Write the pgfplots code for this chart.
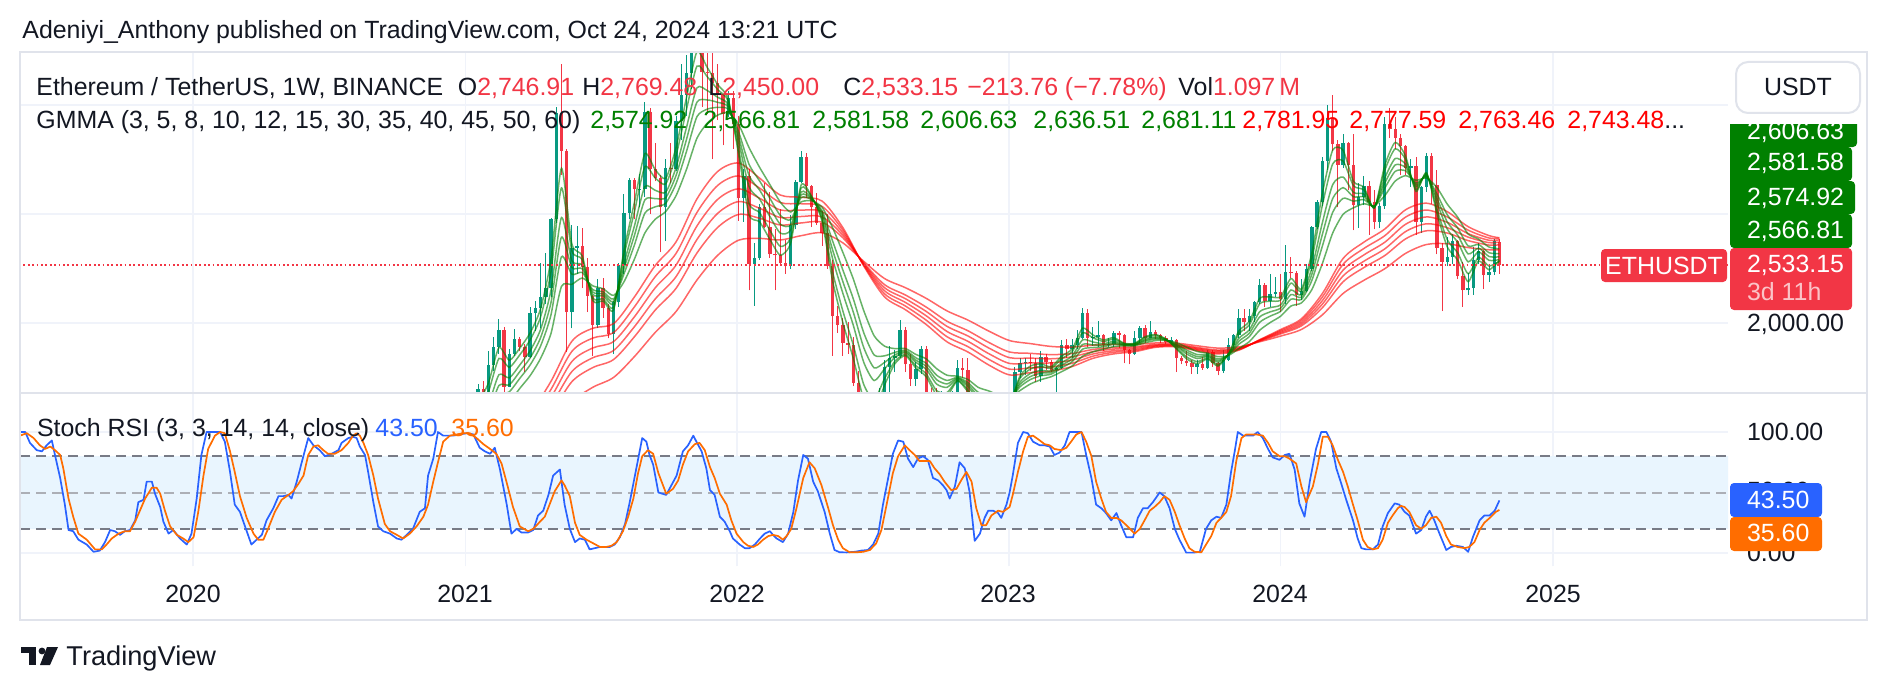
\documentclass[border=0pt]{standalone}
\usepackage{fontspec}
\setmainfont{Liberation Sans}
\usepackage{pgfplots}
\pgfplotsset{compat=1.18}
\usepackage{pgfplotstable}

\definecolor{txt}{HTML}{131722}
\definecolor{upcol}{HTML}{089981}
\definecolor{dncol}{HTML}{F23645}
\definecolor{fastcol}{RGB}{0,128,0}
\definecolor{slowcol}{RGB}{255,0,0}
\definecolor{legG}{RGB}{0,128,0}
\definecolor{legR}{RGB}{255,0,0}
\definecolor{kcol}{HTML}{2962FF}
\definecolor{dcol}{HTML}{FF6D00}
\definecolor{gridc}{HTML}{F0F3FA}
\definecolor{bordc}{HTML}{E0E3EB}
\definecolor{dashc}{HTML}{787B86}
\definecolor{midc}{RGB}{172,175,182}
\definecolor{bandc}{RGB}{233,245,254}

% weekly candles: week index (0 = 6 Jan 2020), open, high, low, close
\pgfplotstableread{
w o h l c
54 1230 1440 1040 1392
55 1392 1470 1270 1314
56 1314 1740 1290 1614
57 1614 1870 1560 1780
58 1780 2040 1720 1935
59 1935 1960 1360 1416
60 1416 1760 1410 1720
61 1720 1945 1700 1855
62 1855 1870 1740 1782
63 1782 1810 1550 1690
64 1690 2145 1680 2090
65 2090 2200 1930 2140
66 2140 2550 1950 2240
67 2240 2645 2170 2320
68 2320 2960 2240 2950
69 2950 3980 2920 3930
70 3930 4372 3360 3580
71 3580 3600 1730 2100
72 2100 2900 1950 2690
73 2690 2890 2450 2710
74 2710 2870 2320 2510
75 2510 2600 2100 2250
76 2250 2260 1700 1980
77 1980 2400 1950 2320
78 2320 2410 2050 2140
79 2140 2170 1860 1900
80 1900 2200 1720 2190
81 2190 2550 2150 2530
82 2530 3180 2450 3010
83 3010 3330 2950 3310
84 3310 3330 2950 3225
85 3225 3370 3060 3230
86 3230 4030 3160 3940
87 3940 3970 3000 3410
88 3410 3650 3300 3330
89 3330 3360 2650 3060
90 3060 3500 2750 3420
91 3420 3650 3280 3415
92 3415 3900 3390 3850
93 3850 4380 3680 4090
94 4090 4460 3900 4290
95 4290 4670 4150 4620
96 4620 4870 4500 4630
97 4630 4770 3980 4300
98 4300 4550 3920 4290
99 4290 4780 3500 4200
100 4200 4380 3860 4100
101 4100 4100 3630 3920
102 3920 4130 3890 4060
103 4060 4130 3600 3830
104 3830 3900 2940 3150
105 3150 3410 2930 3350
106 3350 3410 2300 2540
107 2540 2730 2160 2600
108 2600 3090 2580 3060
109 3060 3280 2870 2880
110 2880 3200 2600 2630
111 2630 2860 2300 2620
112 2620 3050 2540 2550
113 2550 2760 2450 2520
114 2520 2990 2500 2900
115 2900 3310 2860 3290
116 3290 3580 3280 3520
117 3520 3560 3150 3260
118 3260 3270 2880 3060
119 3060 3190 2900 2920
120 2920 3030 2710 2830
121 2830 3000 2500 2520
122 2520 2580 1700 2060
123 2060 2160 1910 1980
124 1980 2050 1700 1820
125 1820 2010 1720 1800
126 1800 1870 1420 1450
127 1450 1560 880 1130
128 1130 1260 1040 1200
129 1200 1250 1000 1070
130 1070 1250 1040 1170
131 1170 1400 1000 1340
132 1340 1660 1320 1600
133 1600 1790 1360 1680
134 1680 1750 1550 1700
135 1700 2030 1680 1935
136 1935 1960 1550 1620
137 1620 1720 1420 1490
138 1490 1640 1420 1580
139 1580 1790 1530 1760
140 1760 1790 1280 1340
141 1340 1400 1220 1290
142 1290 1400 1260 1280
143 1280 1380 1270 1320
144 1320 1340 1190 1330
145 1330 1380 1270 1360
146 1360 1660 1340 1590
147 1590 1680 1500 1570
148 1570 1680 1070 1220
149 1220 1290 1110 1140
150 1140 1230 1080 1200
151 1200 1300 1150 1280
152 1280 1310 1230 1265
153 1265 1350 1150 1185
154 1185 1230 1160 1220
155 1220 1230 1190 1200
156 1200 1330 1190 1290
157 1290 1600 1280 1550
158 1550 1680 1500 1630
159 1630 1680 1520 1645
160 1645 1720 1560 1630
161 1630 1680 1460 1515
162 1515 1740 1460 1690
163 1690 1720 1570 1640
164 1640 1660 1550 1565
165 1565 1600 1370 1590
166 1590 1840 1580 1800
167 1800 1850 1680 1760
168 1760 1850 1680 1795
169 1795 1940 1760 1860
170 1860 2140 1850 2095
171 2095 2130 1780 1865
172 1865 1960 1790 1870
173 1870 2020 1780 1890
174 1890 1900 1740 1800
175 1800 1860 1780 1805
176 1805 1930 1780 1910
177 1910 1930 1770 1890
178 1890 1900 1630 1750
179 1750 1760 1620 1720
180 1720 1930 1710 1860
181 1860 1970 1820 1955
182 1955 1980 1820 1865
183 1865 2020 1860 1920
184 1920 1940 1850 1890
185 1890 1900 1820 1860
186 1860 1880 1810 1830
187 1830 1870 1800 1840
188 1840 1850 1550 1680
189 1680 1700 1620 1655
190 1655 1740 1610 1630
191 1630 1660 1530 1600
192 1600 1660 1530 1620
193 1620 1690 1570 1590
194 1590 1750 1580 1730
195 1730 1750 1600 1630
196 1630 1640 1520 1560
197 1560 1750 1540 1660
198 1660 1860 1650 1800
199 1800 1900 1760 1890
200 1890 2130 1860 2050
201 2050 2130 1930 2010
202 2010 2130 1930 2060
203 2060 2200 2010 2190
204 2190 2400 2170 2350
205 2350 2370 2150 2200
206 2200 2450 2150 2265
207 2265 2420 2240 2280
208 2280 2450 2100 2220
209 2220 2720 2170 2470
210 2470 2610 2410 2460
211 2460 2480 2160 2260
212 2260 2400 2210 2290
213 2290 2540 2280 2500
214 2500 2890 2480 2880
215 2880 3130 2860 3110
216 3110 3520 3070 3490
217 3490 4000 3400 3880
218 3880 4090 3580 3640
219 3640 3680 3060 3450
220 3450 3730 3420 3650
221 3650 3660 3220 3450
222 3450 3730 2850 3080
223 3080 3280 2870 3160
224 3160 3350 3080 3260
225 3260 3300 2810 3110
226 3110 3220 2860 2930
227 2930 3100 2870 3070
228 3070 3890 3050 3830
229 3830 3975 3700 3780
230 3780 3890 3600 3700
231 3700 3730 3360 3620
232 3620 3630 3360 3420
233 3420 3500 3250 3440
234 3440 3520 2810 2930
235 2930 3260 2830 3250
236 3250 3560 3200 3530
237 3530 3560 3090 3270
238 3270 3400 2630 2690
239 2690 2730 2110 2560
240 2560 2790 2520 2610
241 2610 2820 2540 2750
242 2750 2760 2400 2430
243 2430 2560 2150 2300
244 2300 2460 2260 2320
245 2320 2700 2260 2580
246 2580 2730 2540 2660
247 2660 2670 2310 2440
248 2440 2520 2380 2470
249 2470 2770 2440 2750
250 2746.91 2769.48 2450 2533.15
}\candles

% GMMA fast group (3,5,8,10,12,15)
\pgfplotstableread{
w e3 e5 e8 e10 e12 e15
52 1036 973 879 817 754 660
54 1263 1188 1076 1001 926 814
56 1451 1371 1250 1170 1090 969
58 1775 1675 1526 1427 1327 1178
60 1658 1594 1497 1433 1369 1272
62 1769 1708 1615 1554 1492 1400
64 1910 1845 1747 1681 1616 1518
66 2133 2057 1942 1866 1790 1676
68 2588 2474 2304 2190 2077 1906
70 3420 3239 2968 2788 2607 2336
72 2725 2663 2571 2509 2447 2355
74 2614 2580 2530 2497 2463 2413
76 2206 2229 2262 2285 2307 2341
78 2202 2221 2249 2267 2286 2314
80 2120 2142 2175 2198 2220 2253
82 2668 2620 2547 2499 2451 2378
84 3107 3020 2890 2803 2716 2586
86 3553 3432 3250 3129 3007 2825
88 3406 3330 3217 3141 3066 2952
90 3327 3276 3200 3149 3098 3022
92 3612 3538 3427 3354 3280 3169
94 4070 3960 3795 3685 3575 3410
96 4488 4356 4157 4026 3893 3695
98 4342 4258 4131 4046 3962 3835
100 4186 4140 4070 4024 3978 3908
102 4056 4035 4003 3982 3961 3929
104 3547 3593 3661 3707 3753 3821
106 2994 3097 3250 3353 3455 3609
108 2929 3013 3138 3221 3305 3430
110 2767 2851 2977 3060 3144 3270
112 2622 2703 2825 2906 2987 3109
114 2736 2783 2854 2900 2948 3018
116 3266 3240 3201 3176 3150 3111
118 3162 3155 3145 3138 3131 3121
120 2935 2956 2988 3010 3031 3063
122 2394 2475 2596 2676 2757 2878
124 2004 2111 2273 2380 2487 2648
126 1676 1798 1980 2101 2223 2405
128 1302 1438 1641 1776 1912 2115
130 1178 1296 1472 1589 1707 1883
132 1430 1490 1579 1639 1699 1788
134 1627 1650 1685 1708 1731 1765
136 1701 1712 1728 1739 1750 1766
138 1588 1609 1640 1660 1681 1712
140 1507 1534 1575 1603 1630 1671
142 1339 1379 1440 1480 1521 1581
144 1330 1362 1410 1441 1473 1521
146 1468 1475 1486 1494 1501 1512
148 1369 1388 1416 1435 1454 1482
150 1227 1257 1303 1333 1364 1409
152 1259 1279 1308 1328 1348 1377
154 1221 1240 1269 1288 1307 1336
156 1250 1261 1278 1288 1300 1316
158 1515 1493 1459 1437 1415 1381
160 1605 1578 1537 1509 1482 1441
162 1625 1601 1565 1540 1516 1480
164 1599 1584 1561 1546 1531 1508
166 1697 1673 1637 1614 1590 1554
168 1762 1736 1697 1671 1645 1606
170 1953 1910 1845 1803 1760 1695
172 1890 1864 1826 1800 1775 1736
174 1845 1831 1810 1796 1782 1761
176 1866 1852 1832 1818 1805 1784
178 1814 1810 1804 1801 1797 1791
180 1814 1810 1805 1801 1798 1792
182 1875 1866 1852 1842 1833 1819
184 1894 1885 1871 1862 1853 1839
186 1853 1851 1848 1845 1843 1840
188 1763 1773 1787 1796 1806 1820
190 1670 1688 1715 1733 1751 1778
192 1627 1646 1674 1692 1711 1739
194 1669 1678 1691 1700 1709 1722
196 1605 1619 1641 1655 1670 1691
198 1716 1714 1710 1708 1706 1702
200 1927 1900 1860 1833 1806 1766
202 2014 1983 1937 1906 1875 1829
204 2226 2177 2104 2056 2007 1934
206 2239 2200 2141 2102 2063 2004
208 2240 2210 2166 2136 2107 2062
210 2408 2366 2303 2261 2219 2156
212 2312 2291 2259 2237 2216 2184
214 2643 2587 2502 2446 2390 2306
216 3183 3076 2916 2809 2702 2542
218 3586 3459 3269 3142 3015 2825
220 3584 3486 3339 3242 3144 2997
222 3299 3259 3198 3158 3118 3057
224 3245 3220 3182 3157 3132 3094
226 3054 3058 3063 3066 3070 3075
228 3446 3400 3330 3284 3238 3169
230 3657 3598 3509 3450 3391 3302
232 3529 3500 3455 3426 3396 3352
234 3207 3224 3250 3267 3284 3309
236 3379 3371 3359 3350 3342 3330
238 3007 3046 3105 3145 3184 3243
240 2697 2763 2861 2926 2992 3090
242 2577 2643 2741 2806 2872 2970
244 2379 2452 2561 2634 2707 2816
246 2570 2603 2653 2687 2720 2770
248 2488 2523 2575 2610 2645 2697
250 2574.92 2566.81 2581.58 2606.63 2636.51 2681.11
}\fast

% GMMA slow group (30,35,40,45,50,60)
\pgfplotstableread{
w e30 e35 e40 e45 e50 e60
52 528 507 487 466 445 404
56 731 697 663 629 595 527
60 960 912 865 817 770 675
64 1170 1112 1054 996 938 822
68 1466 1392 1318 1244 1170 1022
72 1833 1740 1647 1555 1462 1276
76 1952 1862 1771 1681 1591 1410
80 1994 1912 1830 1748 1665 1501
84 2239 2148 2057 1966 1874 1692
88 2528 2426 2323 2221 2119 1914
92 2745 2639 2532 2426 2319 2106
96 3138 3014 2890 2766 2642 2394
100 3391 3263 3135 3007 2878 2622
104 3467 3349 3231 3114 2996 2760
108 3330 3238 3145 3053 2961 2776
112 3174 3105 3037 2968 2899 2762
116 3153 3094 3036 2977 2918 2801
120 3119 3070 3022 2973 2924 2827
124 2875 2852 2828 2805 2782 2735
128 2524 2531 2538 2545 2552 2566
132 2240 2268 2296 2324 2352 2408
136 2122 2156 2189 2223 2257 2324
140 1986 2026 2066 2106 2146 2226
144 1827 1874 1922 1969 2016 2111
148 1734 1783 1832 1881 1929 2027
152 1615 1667 1719 1771 1822 1926
156 1524 1577 1629 1682 1734 1839
160 1545 1589 1634 1678 1722 1811
164 1559 1597 1634 1672 1710 1785
168 1601 1631 1660 1690 1720 1779
172 1676 1696 1716 1737 1757 1797
176 1717 1732 1746 1761 1775 1804
180 1737 1748 1759 1771 1782 1804
184 1777 1784 1790 1797 1804 1817
188 1782 1788 1793 1799 1804 1815
192 1745 1753 1760 1768 1776 1791
196 1717 1726 1735 1744 1752 1770
200 1751 1756 1761 1766 1771 1781
204 1847 1844 1841 1838 1834 1828
208 1940 1930 1920 1910 1900 1880
212 2039 2023 2006 1990 1974 1941
216 2269 2237 2204 2172 2139 2074
220 2592 2539 2485 2432 2378 2271
224 2742 2684 2625 2567 2509 2392
228 2862 2801 2741 2680 2619 2498
232 3039 2972 2906 2839 2772 2639
236 3099 3036 2973 2910 2846 2720
240 3021 2972 2923 2874 2825 2727
244 2884 2852 2820 2788 2756 2692
248 2802 2780 2759 2737 2715 2672
250 2781.95 2777.59 2763.46 2743.48 2718 2672
}\slow

% Stoch RSI %K
\pgfplotstableread{
w v
-33.9 100
-32.9 100
-32.0 91
-30.7 85
-29.7 84
-28.8 89
-27.8 93
-27.2 81
-26.2 62
-25.3 40
-24.6 19
-23.7 18
-22.7 11
-21.1 7
-19.8 1
-18.6 2
-17.6 9
-16.6 19
-15.7 18
-14.7 15
-13.8 18
-12.8 19
-11.8 27
-11.2 42
-10.2 44
-9.6 59
-8.6 59
-8.0 49
-7.0 38
-6.4 26
-5.4 16
-4.5 19
-3.2 12
-1.9 7
-1.0 16
0.0 45
0.9 81
1.9 100
3.2 100
4.5 100
5.4 92
6.4 67
7.3 40
8.3 34
9.6 18
10.5 7
11.5 11
12.5 15
13.4 27
14.7 37
15.7 47
16.6 47
17.6 48
18.2 45
19.2 59
20.1 74
21.4 95
22.4 89
23.6 85
24.6 80
25.9 82
27.2 85
27.8 91
29.1 95
30.0 96
30.7 95
31.3 88
32.3 81
32.9 67
33.9 42
34.8 22
35.8 18
37.1 16
38.4 12
39.3 11
40.3 15
41.5 20
42.8 34
43.8 37
44.4 64
45.4 78
46.3 100
47.3 97
48.3 97
49.2 97
50.5 98
51.8 99
53.1 98
54.3 87
55.3 84
56.3 82
57.2 87
58.2 69
59.5 40
60.4 16
61.4 20
62.3 17
63.6 17
64.6 19
65.5 31
66.5 35
67.5 48
68.4 64
69.7 69
70.6 40
71.6 20
72.6 9
73.5 12
74.5 11
75.4 3
76.4 4
77.4 5
79.3 5
80.2 7
81.2 13
82.2 24
83.1 42
84.1 64
85.0 84
85.5 95
86.3 92
86.9 81
87.6 73
88.6 50
90.1 48
91.1 56
92.1 64
93.3 84
94.3 89
95.3 97
95.9 92
96.9 84
97.8 70
98.5 52
99.4 48
100.4 30
101.3 26
102.3 18
102.9 12
104.2 7
105.2 4
106.1 4
107.1 7
108.1 12
109.0 16
110.0 18
110.6 15
111.3 12
112.5 9
113.5 16
114.5 34
115.4 60
116.4 81
117.3 78
118.3 59
119.2 51
120.5 34
121.5 16
122.4 2.5
123.4 0.6
124.7 0.5
126.3 1
127.6 2
128.8 2.5
129.8 7
130.8 16
131.7 40
132.7 62
133.6 82
134.6 93
135.6 92
136.5 78
137.5 71
138.4 78
139.4 80
140.3 77
141.3 62
142.3 60
143.2 56
143.9 52
144.5 45
145.5 55
146.4 75
147.4 70
148.3 51
149.3 10
150.3 16
151.2 29
151.9 35
152.8 35
153.8 33
154.4 29
155.4 40
156.0 50
156.6 64
157.6 91
158.6 100
159.5 99
160.5 92
161.8 89
162.7 89
163.7 88
164.6 81
165.6 83
166.6 89
167.5 100
168.8 100
169.8 100
170.7 81
171.7 62
172.6 40
173.6 37
174.5 33
175.5 27
176.5 33
177.4 23
178.4 13
179.7 13
180.6 29
181.6 37
182.5 37
183.5 42
184.8 50
185.7 47
186.7 37
187.7 20
188.6 11
189.9 0.3
191.2 0.3
192.5 1
193.7 20
194.7 27
195.7 30
196.6 29
197.6 40
198.5 67
199.2 84
199.8 100
200.8 97
201.7 97
202.7 97
203.6 100
204.6 95
205.6 86
206.5 79
207.8 77
208.8 81
209.7 82
210.7 69
211.6 41
212.6 30
213.6 59
214.8 86
215.8 100
216.8 100
217.7 92
218.7 70
219.6 58
220.6 44
221.9 27
222.8 12
223.5 4
224.4 3
225.7 3
226.7 7
227.6 22
228.6 33
229.9 41
230.8 40
231.8 34
232.7 31
234.0 16
235.0 19
235.9 30
236.6 35
237.5 27
238.5 16
239.8 2.5
240.7 5
241.7 6
243.0 5
244.0 1
244.9 13
246.2 27
247.1 31
248.1 31
249.1 35
250 43.5
}\stochK

% Stoch RSI %D
\pgfplotstableread{
w v
-33.9 97
-32.6 99
-31.3 95
-30.1 89
-29.1 86
-28.1 88
-27.2 85
-26.2 81
-25.6 70
-24.6 45
-23.7 30
-22.7 16
-21.1 11
-19.5 3
-18.2 3
-17.3 7
-16.3 12
-15.0 16
-13.8 18
-12.8 18
-11.8 26
-10.9 35
-9.9 45
-8.6 54
-7.7 54
-7.0 49
-6.1 35
-5.1 22
-3.8 15
-2.6 12
-1.6 9
-0.6 13
0.3 34
1.3 64
2.2 86
3.5 97
4.5 100
5.4 99
6.4 84
7.3 67
8.3 47
9.6 29
10.9 16
11.8 11
12.8 11
13.7 20
15.0 34
16.3 44
17.6 48
18.5 51
19.5 57
20.5 64
21.4 81
22.4 88
23.3 89
24.3 85
25.2 82
26.5 82
27.8 85
29.1 91
30.0 97
30.7 99
31.3 97
32.0 91
32.9 81
33.9 64
34.8 45
36.1 24
37.1 18
38.4 15
39.6 12
40.9 16
42.2 22
43.5 30
44.4 40
45.4 59
46.3 75
47.3 92
48.6 97
49.9 98
51.1 99
52.4 99
53.7 95
55.0 90
56.3 86
57.5 82
58.5 74
59.5 58
60.7 38
62.0 22
63.6 18
64.6 20
65.9 26
66.8 30
67.8 41
68.7 51
70.0 60
70.6 56
71.6 47
72.6 25
73.5 15
74.8 11
76.1 8
77.4 5
78.6 5
79.6 6
80.6 9
81.8 18
82.8 30
83.8 45
84.7 66
85.5 80
86.6 85
87.6 82
88.6 66
90.1 49
91.4 53
92.4 60
93.3 73
94.3 84
95.6 90
96.5 91
97.5 85
98.5 71
99.4 62
100.4 49
101.7 40
102.6 27
103.6 16
104.9 9
105.8 6
106.8 5
107.7 7
108.7 11
109.7 14
110.6 15
111.6 14
112.5 11
113.2 14
114.1 20
115.1 37
116.4 62
117.6 75
118.6 70
119.9 56
121.2 37
122.1 23
123.1 11
124.0 4
125.3 0.6
126.6 0.6
127.9 1
129.2 2.5
130.4 8
131.4 19
132.4 40
133.6 66
134.6 80
135.9 89
136.8 85
137.8 81
138.7 76
139.7 76
140.7 76
141.6 70
142.6 65
143.5 59
144.8 52
145.8 53
146.7 60
147.7 67
148.7 59
149.6 37
150.6 23
151.5 23
152.5 31
153.8 35
154.7 34
156.0 38
156.6 48
157.6 67
158.6 84
159.5 96
160.5 97
161.8 93
162.7 90
163.7 89
164.6 86
165.9 85
166.9 87
167.8 92
168.8 98
169.8 100
170.7 92
171.7 80
172.6 59
173.6 45
174.5 34
175.5 29
176.5 29
177.4 27
178.4 23
180.0 16
181.0 20
181.9 27
182.9 35
183.8 38
184.8 42
185.7 47
186.7 44
187.7 34
188.6 23
189.6 12
190.5 4
191.5 1
192.8 0.6
193.7 7
194.7 14
195.7 25
196.6 29
197.6 34
198.5 47
199.5 76
200.5 95
201.4 98
202.4 98
203.3 98
204.6 97
205.6 91
206.5 84
207.8 80
208.8 80
209.7 78
211.0 74
212.0 55
212.9 42
214.2 55
215.2 74
216.1 96
217.1 96
218.0 89
219.0 77
220.0 67
220.9 55
221.9 40
222.8 27
223.8 11
224.7 5
225.7 3
226.7 4
227.6 11
228.6 25
229.5 31
230.5 37
231.1 39
231.8 38
232.7 34
234.0 23
235.0 20
235.9 23
236.9 29
237.9 30
238.8 25
239.8 14
240.7 7
242.0 5
243.3 4
244.2 5
245.2 9
246.2 19
247.1 25
248.4 30
249.3 34
250 35.6
}\stochD

\begin{document}
\begin{tikzpicture}[font=\fontsize{12.45}{15}\selectfont, every node/.style={inner sep=0pt, text=txt}]
\fill[white] (0,0) rectangle (944pt,-345pt);

% ---------------- main price pane ----------------
\begin{axis}[
  at={(10pt,-26pt)}, anchor=north west, scale only axis,
  width=854pt, height=170.5pt,
  xmin=-33.91, xmax=293.87, ymin=1358, ymax=4486,
  axis line style={draw=none}, tick style={draw=none}, major tick length=0pt,
  xtick={-0.714,51.571,103.714,155.857,208,260.286}, ytick={2000,3000,4000},
  xticklabels={}, yticklabels={},
  grid=major, grid style={draw=gridc, line width=0.8pt},
  candle/.style={draw=none, mark=none, forget plot},
]
% wicks
\addplot[candle,
  restrict expr to domain={\thisrow{c}-\thisrow{o}}{0:100000},
  error bars/.cd, y dir=plus, y explicit, error mark=none,
  error bar style={draw=upcol, line width=0.5pt}]
  table[x=w, y=l, y error plus expr={\thisrow{h}-\thisrow{l}}] {\candles};
\addplot[candle,
  restrict expr to domain={\thisrow{c}-\thisrow{o}}{-100000:-0.0001},
  error bars/.cd, y dir=plus, y explicit, error mark=none,
  error bar style={draw=dncol, line width=0.5pt}]
  table[x=w, y=l, y error plus expr={\thisrow{h}-\thisrow{l}}] {\candles};
% bodies
\addplot[candle,
  restrict expr to domain={\thisrow{c}-\thisrow{o}}{0:100000},
  error bars/.cd, y dir=plus, y explicit, error mark=none,
  error bar style={draw=upcol, line width=1.7pt}]
  table[x=w, y=o, y error plus expr={\thisrow{c}-\thisrow{o}}] {\candles};
\addplot[candle,
  restrict expr to domain={\thisrow{c}-\thisrow{o}}{-100000:-0.0001},
  error bars/.cd, y dir=plus, y explicit, error mark=none,
  error bar style={draw=dncol, line width=1.7pt}]
  table[x=w, y=c, y error plus expr={\thisrow{o}-\thisrow{c}}] {\candles};
% GMMA
\pgfplotsinvokeforeach{e30,e35,e40,e45,e50,e60}{
  \addplot[slowcol, opacity=0.6, line width=0.75pt, smooth, tension=0.5, mark=none] table[x=w, y=#1] {\slow};
}
\pgfplotsinvokeforeach{e3,e5,e8,e10,e12,e15}{
  \addplot[fastcol, opacity=0.6, line width=0.75pt, smooth, tension=0.4, mark=none] table[x=w, y=#1] {\fast};
}
% last price line
\addplot[dncol, line width=0.9pt, dash pattern=on 0.9pt off 1.3pt, mark=none] coordinates {(-40,2533.15) (300,2533.15)};
\end{axis}

% ---------------- Stoch RSI pane ----------------
\begin{axis}[
  at={(10pt,-196.5pt)}, anchor=north west, scale only axis,
  width=854pt, height=86.5pt,
  xmin=-33.91, xmax=293.87, ymin=-10.74, ymax=132.23,
  axis line style={draw=none}, tick style={draw=none}, major tick length=0pt,
  xtick={-0.714,51.571,103.714,155.857,208,260.286}, ytick={0,100},
  xticklabels={}, yticklabels={},
  grid=major, grid style={draw=gridc, line width=0.8pt},
]
\addplot[draw=none, fill=bandc, mark=none] coordinates {(-40,20) (300,20) (300,80) (-40,80)} -- cycle;
\addplot[dashc, line width=1pt, dash pattern=on 5pt off 3pt, mark=none] coordinates {(-40,80) (300,80)};
\addplot[midc, line width=1pt, dash pattern=on 5pt off 3pt, mark=none] coordinates {(-40,50) (300,50)};
\addplot[dashc, line width=1pt, dash pattern=on 5pt off 3pt, mark=none] coordinates {(-40,20) (300,20)};
\addplot[kcol, line width=0.85pt, line join=round, mark=none] table[x=w, y=v] {\stochK};
\addplot[dcol, line width=0.85pt, line join=round, mark=none] table[x=w, y=v] {\stochD};
\end{axis}

% ---------------- frame, labels and text (pixel units) ----------------
\begin{scope}[x=0.5pt, y=-0.5pt]
  \draw[bordc, line width=1pt] (20,52) rectangle (1867,620);
  \draw[bordc, line width=1.2pt] (20,393) -- (1867,393);

  % title
  \node[anchor=base west] at (22,38.8) {Adeniyi\_Anthony published on TradingView.com, Oct 24, 2024 13:21 UTC};

  % legend line 1
  \node[anchor=base west] at (36,95.8) {Ethereum / TetherUS, 1W, BINANCE};
  \node[anchor=base west] at (457.5,95.8) {O\textcolor{dncol}{2,746.91}};
  \node[anchor=base west] at (582,95.8) {H\textcolor{dncol}{2,769.48}};
  \node[anchor=base west] at (708,95.8) {L\textcolor{dncol}{2,450.00}};
  \node[anchor=base west] at (843,95.8) {C\textcolor{dncol}{2,533.15}};
  \node[anchor=base west] at (967,95.8) {\textcolor{dncol}{−213.76 (−7.78\%)}};
  \node[anchor=base west] at (1178,95.8) {Vol\textcolor{dncol}{1.097\,M}};

  % legend line 2
  \node[anchor=base west] at (36,128.8) {GMMA (3, 5, 8, 10, 12, 15, 30, 35, 40, 45, 50, 60)};
  \node[anchor=base west, text=legG] at (590,128.8) {2,574.92};
  \node[anchor=base west, text=legG] at (703,128.8) {2,566.81};
  \node[anchor=base west, text=legG] at (812,128.8) {2,581.58};
  \node[anchor=base west, text=legG] at (920,128.8) {2,606.63};
  \node[anchor=base west, text=legG] at (1033,128.8) {2,636.51};
  \node[anchor=base west, text=legG] at (1141,128.8) {2,681.11};
  \node[anchor=base west, text=legR] at (1242,128.8) {2,781.95};
  \node[anchor=base west, text=legR] at (1349,128.8) {2,777.59};
  \node[anchor=base west, text=legR] at (1458,128.8) {2,763.46};
  \node[anchor=base west] at (1567,128.8) {\textcolor{legR}{2,743.48}...};

  % RSI legend
  \node[anchor=base west] at (36.7,436.8) {Stoch RSI (3, 3, 14, 14, close)};
  \node[anchor=base west, text=kcol] at (375,436.8) {43.50};
  \node[anchor=base west, text=dcol] at (451,436.8) {35.60};

  % price scale
  \draw[bordc, line width=1pt, fill=white, rounded corners=6] (1736,62) rectangle (1860,113);
  \node[anchor=base] at (1798,95.8) {USDT};
  \node[anchor=base west] at (1746.7,331.8) {2,000.00};
  \begin{scope}
    \clip (1725,124) rectangle (1870,260);
    \fill[legG, rounded corners=2] (1730,113) rectangle (1857,147);
    \node[anchor=base west, text=white] at (1746.7,139.8) {2,606.63};
  \end{scope}
  \fill[legG, rounded corners=2] (1730,147) rectangle (1852,181);
  \fill[legG, rounded corners=2] (1730,181) rectangle (1855,214);
  \fill[legG, rounded corners=2] (1730,214) rectangle (1852,248);
  \fill[legG] (1730,140) rectangle (1740,240);
  \node[anchor=base west, text=white] at (1746.7,170.8) {2,581.58};
  \node[anchor=base west, text=white] at (1746.7,205.8) {2,574.92};
  \node[anchor=base west, text=white] at (1746.7,238.8) {2,566.81};
  \fill[dncol, rounded corners=2] (1730,248) rectangle (1852,310);
  \node[anchor=base west, text=white] at (1746.7,272.8) {2,533.15};
  \node[anchor=base west, text=white, text opacity=0.7] at (1746.7,300.8) {3d 11h};
  \fill[dncol, rounded corners=2] (1601,249) rectangle (1727,282);
  \node[anchor=base, text=white] at (1664,274.3) {ETHUSDT};

  % RSI scale
  \node[anchor=base west] at (1746.7,440.8) {100.00};
  \node[anchor=base west] at (1746.7,499.8) {50.00};
  \node[anchor=base west] at (1746.7,561.8) {0.00};
  \fill[kcol, rounded corners=2] (1730,483) rectangle (1822,517);
  \fill[dcol, rounded corners=2] (1730,517) rectangle (1822,551);
  \node[anchor=base west, text=white] at (1746.7,508.8) {43.50};
  \node[anchor=base west, text=white] at (1746.7,541.8) {35.60};

  % time scale
  \node[anchor=base] at (193,602.8) {2020};
  \node[anchor=base] at (465,602.8) {2021};
  \node[anchor=base] at (737,602.8) {2022};
  \node[anchor=base] at (1008,602.8) {2023};
  \node[anchor=base] at (1280,602.8) {2024};
  \node[anchor=base] at (1553,602.8) {2025};

  % TradingView logo
  \fill[txt] (21,647) rectangle (36,653);
  \fill[txt] (29,647) rectangle (36,665);
  \fill[txt] (42,651) circle (3.4);
  \fill[txt] (47,647) -- (58,647) -- (50,665) -- (40,665) -- cycle;
  \node[anchor=base west, font=\fontsize{13.6}{16}\selectfont] at (66,665.5) {TradingView};
\end{scope}

\pgfresetboundingbox
\useasboundingbox (0,0) rectangle (944pt,-345pt);
\end{tikzpicture}
\end{document}
